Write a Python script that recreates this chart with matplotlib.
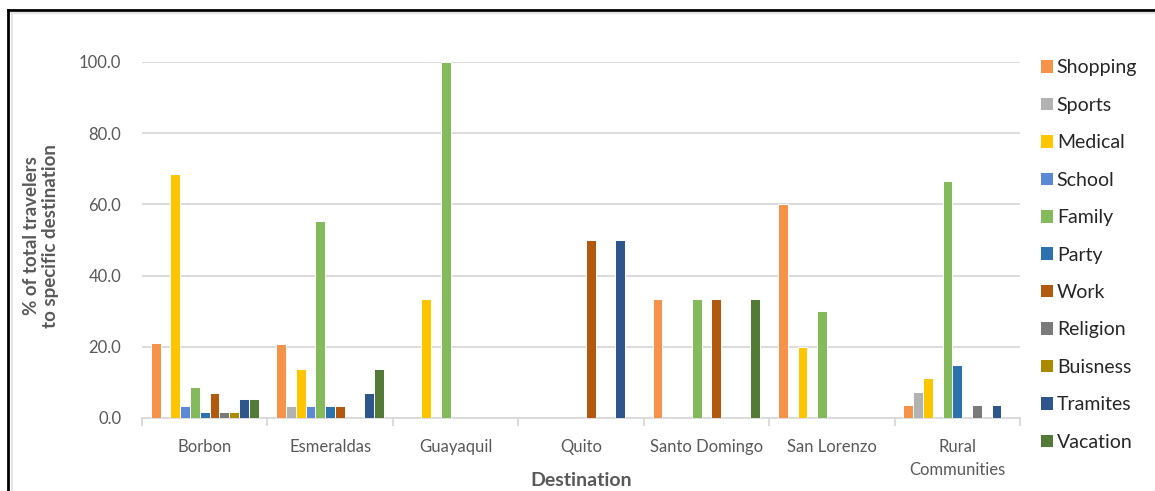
import numpy as np
import matplotlib
matplotlib.use('Agg')
import matplotlib.pyplot as plt
from matplotlib.patches import Patch
from matplotlib.lines import Line2D

plt.rcParams['font.family'] = ['Lato', 'DejaVu Sans']

destinations = ['Borbon', 'Esmeraldas', 'Guayaquil', 'Quito', 'Santo Domingo',
                'San Lorenzo', 'Rural\nCommunities']
purposes = ['Shopping', 'Sports', 'Medical', 'School', 'Family', 'Party', 'Work',
            'Religion', 'Buisness', 'Tramites', 'Vacation']

# values per purpose, one entry per destination (% of travelers)
shopping = [21.1, 20.7, 0, 0, 33.3, 60.0, 3.7]
sports = [0, 3.4, 0, 0, 0, 0, 7.4]
medical = [68.4, 13.8, 33.3, 0, 0, 20.0, 11.1]
school = [3.5, 3.4, 0, 0, 0, 0, 0]
family = [8.8, 55.2, 100.0, 0, 33.3, 30.0, 66.7]
party = [1.8, 3.4, 0, 0, 0, 0, 14.8]
work = [7.0, 3.4, 0, 50.0, 33.3, 0, 0]
religion = [1.8, 0, 0, 0, 0, 0, 3.7]
buisness = [1.8, 0, 0, 0, 0, 0, 0]
tramites = [5.3, 6.9, 0, 50.0, 0, 0, 3.7]
vacation = [5.3, 13.8, 0, 0, 33.3, 0, 0]

series = [shopping, sports, medical, school, family, party, work,
          religion, buisness, tramites, vacation]
colors = ['#F5934A', '#B2B2B2', '#FFC600', '#5A8AD6', '#84BA5B', '#2C72AC',
          '#B1590F', '#7A7A7A', '#AC8A00', '#2E568C', '#547A37']

fig = plt.figure(figsize=(11.55, 4.91), dpi=100)
ax = fig.add_axes([142/1155, 1-418/491, 878/1155, 356/491])

x = np.arange(len(destinations))
w = 0.078
for j, (vals, c) in enumerate(zip(series, colors)):
    ax.bar(x + (j - 5) * w, vals, width=w, color=c, edgecolor='white',
           linewidth=0.7, label=purposes[j], zorder=3)

ax.set_xlim(-0.5, len(destinations) - 0.5)
ax.set_ylim(0, 100)
ax.set_yticks(np.arange(0, 101, 20))
ax.set_yticklabels(['%.1f' % v for v in np.arange(0, 101, 20)])
ax.yaxis.grid(True, color='#D9D9D9', linewidth=1.3, zorder=0)
ax.set_xticks(x)
ax.set_xticklabels(destinations, linespacing=1.55)
ax.set_xticks(np.arange(-0.5, len(destinations)), minor=True)
ax.tick_params(axis='x', which='major', length=0, pad=15, labelsize=12,
               labelcolor='#595959')
ax.tick_params(axis='x', which='minor', length=6, color='#D9D9D9', width=1.3)
ax.tick_params(axis='y', length=0, pad=15, labelsize=12, labelcolor='#595959')
for s in ['top', 'right', 'left']:
    ax.spines[s].set_visible(False)
ax.spines['bottom'].set_color('#D9D9D9')
ax.spines['bottom'].set_linewidth(1.3)

fig.text(581/1155, 1-480/491, 'Destination', ha='center', va='center',
         fontsize=14, fontweight='bold', color='#595959')
fig.text(41/1155, 1-236/491, '% of total travelers\nto specific destination',
         ha='center', va='center', rotation=90, fontsize=13.5,
         fontweight='bold', color='#595959', linespacing=1.1)

handles = [Patch(facecolor=c, edgecolor='none') for c in colors]
fig.legend(handles, purposes, loc='upper left',
           bbox_to_anchor=(1023/1155, 1-42/491), frameon=False,
           fontsize=14, handlelength=0.62, handleheight=0.62,
           handletextpad=0.22, labelspacing=1.05, labelcolor='#262626')

# chart frame
fig.add_artist(Line2D([7.5/1155, 7.5/1155], [0, 1-9.5/491], color='black',
                      linewidth=2, transform=fig.transFigure))
fig.add_artist(Line2D([7.5/1155, 1], [1-9.5/491, 1-9.5/491], color='black',
                      linewidth=2, transform=fig.transFigure))
fig.add_artist(Line2D([11.5/1155, 11.5/1155], [0, 1-13/491], color='#E3E3E3',
                      linewidth=1.5, transform=fig.transFigure))
fig.add_artist(Line2D([11.5/1155, 1], [1-13/491, 1-13/491], color='#E3E3E3',
                      linewidth=1.5, transform=fig.transFigure))

fig.savefig('out.png', dpi=100)
